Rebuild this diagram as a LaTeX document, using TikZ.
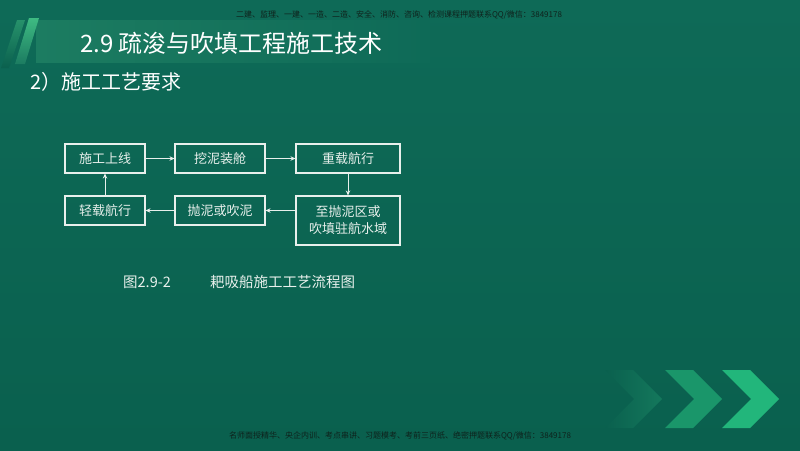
\documentclass[tikz,border=0pt]{standalone}
\usepackage{fontspec}
\setmainfont{Noto Sans CJK SC}
\usetikzlibrary{arrows.meta}
\definecolor{bgteal}{RGB}{10,96,78}
\definecolor{bgtop}{RGB}{14,106,87}
\definecolor{bandgreen}{RGB}{28,124,97}
\definecolor{stripegreen}{RGB}{62,186,130}
\definecolor{chevA}{RGB}{20,120,92}
\definecolor{chevB}{RGB}{26,150,106}
\definecolor{chevC}{RGB}{34,182,123}
\definecolor{boxline}{RGB}{232,240,236}
\definecolor{marktext}{RGB}{14,34,28}

\begin{document}
\begin{tikzpicture}[x=1pt,y=-1pt,every node/.style={inner sep=0pt,text=boxline,font=\fontsize{13}{17}\selectfont},
  stepbox/.style={rectangle,draw=boxline,line width=1.1pt,minimum height=29pt,align=center},
  flow/.style={boxline,line width=1pt,-{Stealth[length=5pt,width=4.5pt]}}]
  \useasboundingbox (0,0) rectangle (800,450);
  \shade[top color=bgtop,bottom color=bgteal] (0,0) rectangle (800,450);
  % title band and stripes
  \shade[left color=bandgreen,right color=bgtop] (36,20) rectangle (430,62);
  \shade[top color=stripegreen!55!bgteal,bottom color=bgteal] (17,20) -- (25,20) -- (9,68) -- (1,68) -- cycle;
  \shade[top color=stripegreen,bottom color=bandgreen] (29,18) -- (39,18) -- (25,64) -- (15,64) -- cycle;
  \node[font=\fontsize{8}{9}\selectfont,text=marktext] (marktop) at (399,15) {二建、监理、一建、一造、二造、安全、消防、咨询、检测课程押题联系QQ/微信：3849178};
  \node[anchor=west,text=white,font=\fontsize{24}{28}\selectfont] (title) at (80,43) {2.9 疏浚与吹填工程施工技术};
  \node[anchor=west,text=white,font=\fontsize{20}{24}\selectfont] (subtitle) at (30,82) {2）施工工艺要求};
  % flow chart
  \node[stepbox,minimum width=80pt] (launch) at (105,158.5) {施工上线};
  \node[stepbox,minimum width=90pt] (dredge) at (220,158.5) {挖泥装舱};
  \node[stepbox,minimum width=104pt] (loaded) at (348,158.5) {重载航行};
  \node[stepbox,minimum width=104pt,minimum height=49pt] (dumparea) at (348,220.5) {至抛泥区或\\吹填驻航水域};
  \node[stepbox,minimum width=90pt] (dump) at (220,210.5) {抛泥或吹泥};
  \node[stepbox,minimum width=80pt] (light) at (105,210.5) {轻载航行};
  \draw[flow] (launch) -- (dredge);
  \draw[flow] (dredge) -- (loaded);
  \draw[flow] (loaded) -- (dumparea);
  \draw[flow] (dumparea.west |- dump) -- (dump);
  \draw[flow] (dump) -- (light);
  \draw[flow] (light) -- (launch);
  \node[anchor=west,font=\fontsize{14.5}{17}\selectfont] (figno) at (123,282) {图2.9-2};
  \node[anchor=west,font=\fontsize{14.5}{17}\selectfont] (figname) at (210,282) {耙吸船施工工艺流程图};
  % chevrons
  \foreach \x/\l/\r in {605/bgteal/chevA,665/chevB/chevB,722/chevC/chevC}
    \shade[left color=\l,right color=\r] (\x,370) -- ++(28,0) -- ++(29,29) -- ++(-29,29) -- ++(-28,0) -- ++(29,-29) -- cycle;
  \node[font=\fontsize{8}{9}\selectfont,text=marktext] (markbottom) at (400,436) {名师面授精华、央企内训、考点串讲、习题模考、考前三页纸、绝密押题联系QQ/微信：3849178};
\end{tikzpicture}
\end{document}
